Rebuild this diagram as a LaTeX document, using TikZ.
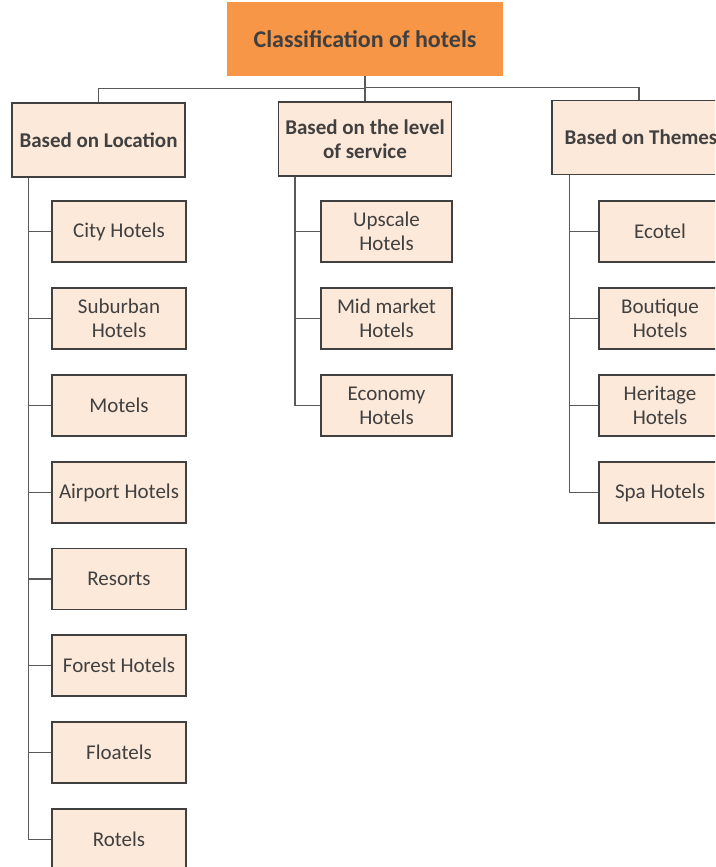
\documentclass[tikz,border=0pt]{standalone}
\usepackage{fontspec}
\setmainfont{Carlito}
\definecolor{hdrorange}{HTML}{F79646}
\definecolor{boxfill}{HTML}{FDE9D9}
\definecolor{boxline}{HTML}{404040}
\definecolor{txtgray}{HTML}{404040}
\definecolor{linegray}{HTML}{5A5A5A}
\begin{document}
\begin{tikzpicture}
[x=0.75pt,y=-0.75pt,
 topnode/.style={rectangle,fill=hdrorange,text=txtgray,font=\fontsize{18pt}{21pt}\selectfont\bfseries,minimum width=207pt,minimum height=55.5pt,inner sep=0pt},
 catnode/.style={rectangle,draw=boxline,line width=0.8pt,fill=boxfill,text=txtgray,font=\fontsize{15.75pt}{18pt}\selectfont\bfseries,align=center,minimum width=129.75pt,minimum height=55.5pt,inner sep=0pt},
 subnode/.style={rectangle,draw=boxline,line width=0.8pt,fill=boxfill,text=txtgray,font=\fontsize{15.75pt}{18pt}\selectfont,align=center,minimum width=100.5pt,minimum height=45.75pt,inner sep=0pt},
 conn/.style={draw=linegray,line width=0.8pt}]
\useasboundingbox (0,0) rectangle (715,867);
\clip (0,0) rectangle (715,867);

\node (R) at (365,39) [topnode] {Classification of hotels};

\node (L) at (98.5,140) [catnode] {Based on Location};
\node (S) at (365,139) [catnode] {Based on the level\\of service};
\node (T) at (641,137.5) [catnode,minimum width=133.5pt] {Based on Themes};

\draw[conn] (R.south) -- ++(0,12) -| (L.north);
\draw[conn] (R.south) -- (S.north);
\draw[conn] (R.south) -- ++(0,11) -| ([xshift=-1.5pt]T.north);

% based on location
\node (L1) at (119,231.5) [subnode] {City Hotels};
\node (L2) at (119,318.5) [subnode] {Suburban\\Hotels};
\node (L3) at (119,405.5) [subnode] {Motels};
\node (L4) at (119,492.5) [subnode] {Airport Hotels};
\node (L5) at (119,579) [subnode] {Resorts};
\node (L6) at (119,665.5) [subnode] {Forest Hotels};
\node (L7) at (119,752.5) [subnode] {Floatels};
\node (L8) at (119,839.5) [subnode] {Rotels};
\foreach \n in {L1,L2,L3,L4,L5,L6,L7,L8}
  \draw[conn] ([xshift=12.75pt]L.south west) |- (\n.west);

% based on service
\node (S1) at (386.5,231.5) [subnode,minimum width=98.25pt] {Upscale\\Hotels};
\node (S2) at (386.5,318.5) [subnode,minimum width=98.25pt] {Mid market\\Hotels};
\node (S3) at (386.5,405.5) [subnode,minimum width=98.25pt] {Economy\\Hotels};
\foreach \n in {S1,S2,S3}
  \draw[conn] ([xshift=12.75pt]S.south west) |- (\n.west);

% based on themes
\node (T1) at (660,231.5) [subnode,minimum width=91.5pt] {Ecotel};
\node (T2) at (660,318.5) [subnode,minimum width=91.5pt] {Boutique\\Hotels};
\node (T3) at (660,405.5) [subnode,minimum width=91.5pt] {Heritage\\Hotels};
\node (T4) at (660,492.5) [subnode,minimum width=91.5pt] {Spa Hotels};
\foreach \n in {T1,T2,T3,T4}
  \draw[conn] ([xshift=13.5pt]T.south west) |- (\n.west);

\end{tikzpicture}
\end{document}
